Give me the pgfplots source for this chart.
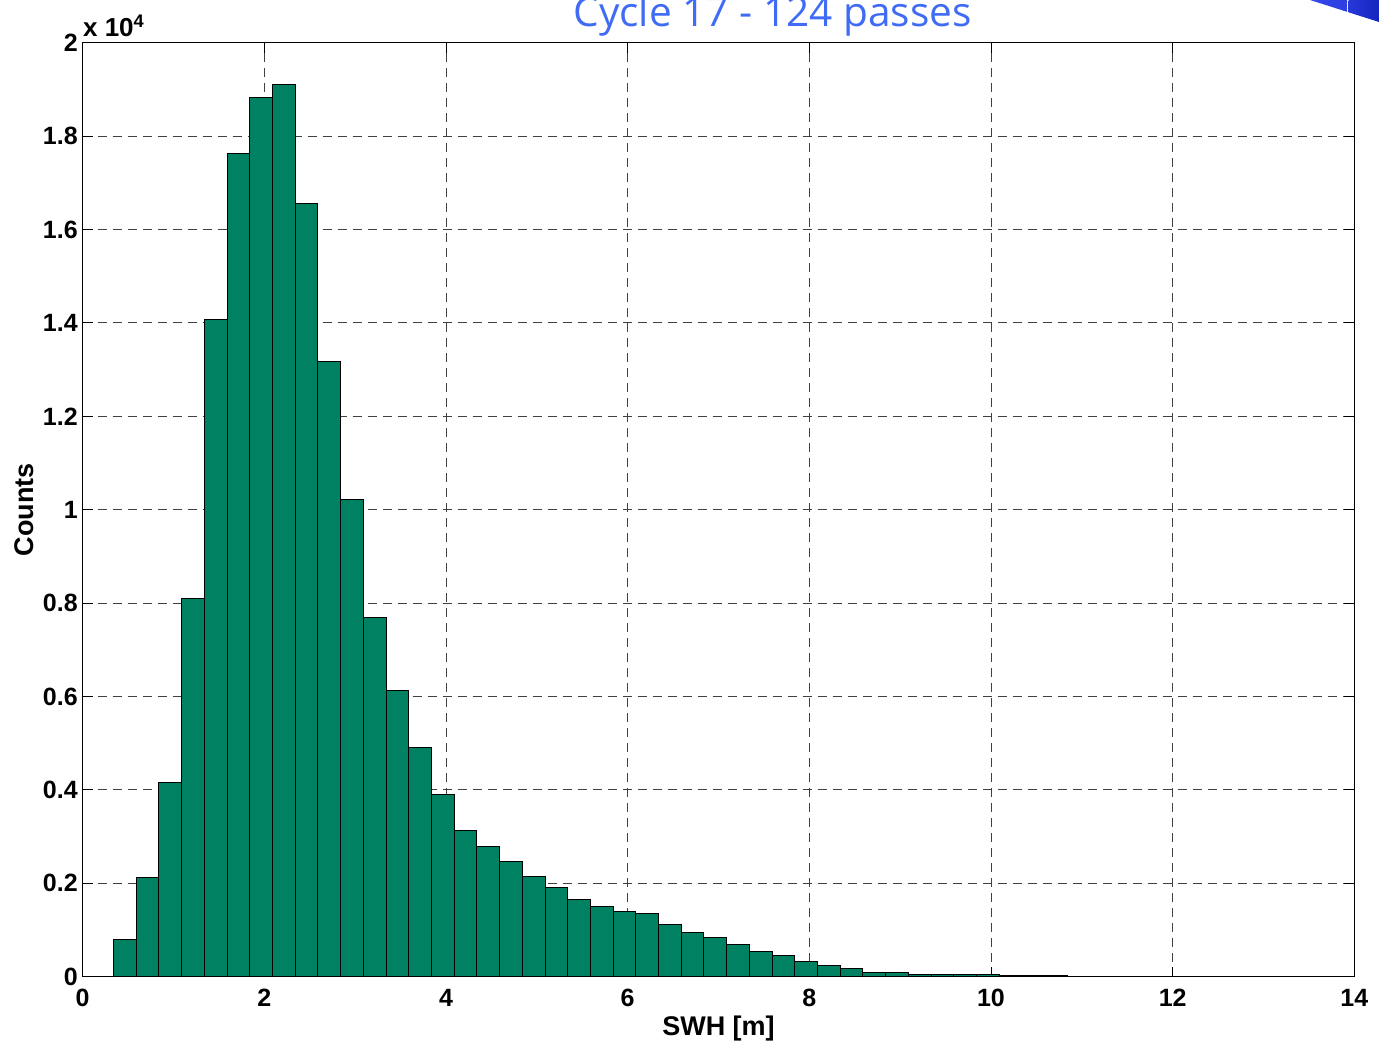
\documentclass[border=0pt]{standalone}
\usepackage{pgfplots}
\pgfplotsset{compat=1.18}
\usepackage{fontspec}
\setmainfont{Liberation Sans}
\newfontfamily\titlefont{Open Sans}

\definecolor{barteal}{RGB}{0,129,98}
\definecolor{titleblue}{RGB}{64,108,245}
\definecolor{logoblueA}{RGB}{52,70,235}
\definecolor{logoblueB}{RGB}{20,36,190}

% SWH histogram: left bin edge, counts (last row closes the final bin)
\pgfplotstableread{
x      n
0.34   801
0.59   2120
0.84   4163
1.09   8094
1.34   14083
1.59   17623
1.84   18837
2.09   19109
2.34   16561
2.59   13163
2.84   10223
3.09   7696
3.34   6124
3.59   4912
3.84   3897
4.09   3135
4.34   2792
4.59   2477
4.84   2150
5.09   1921
5.34   1657
5.59   1493
5.84   1400
6.09   1343
6.34   1122
6.59   951
6.84   844
7.09   694
7.34   550
7.59   458
7.84   330
8.09   245
8.34   180
8.59   100
8.84   80
9.09   58
9.34   50
9.59   43
9.84   40
10.09  25
10.34  22
10.59  18
10.84  15
11.09  12
11.34  10
11.59  8
11.84  4
12.09  2
12.34  1
12.59  0
}\swhhist

\begin{document}
\begin{tikzpicture}
\begin{axis}[
  name=ax,
  at={(0,0)}, anchor=south west,
  scale only axis,
  width=635.8pt, height=467pt,
  xmin=0, xmax=14, ymin=0, ymax=20000,
  xtick={0,2,...,14},
  xticklabels={0,2,4,6,8,10,12,14},
  ytick={0,2000,...,20000},
  yticklabels={0,0.2,0.4,0.6,0.8,1,1.2,1.4,1.6,1.8,2},
  scaled ticks=false,
  tick align=inside,
  xtick pos=both, ytick pos=both,
  major tick length=5pt,
  tick style={black, line width=0.5pt},
  axis line style={black, line width=0.6pt},
  grid=major,
  major grid style={black!75, line width=0.5pt, dash pattern=on 4.5pt off 3pt},
  ticklabel style={font=\bfseries\fontsize{12.5}{12.5}\selectfont},
  xticklabel style={anchor=base, inner sep=0pt, yshift=-15pt},
  yticklabel style={anchor=east, inner sep=0pt, xshift=-2.3pt},
  xlabel={SWH [m]},
  ylabel={Counts},
  label style={font=\bfseries\fontsize{13.5}{13.5}\selectfont},
  xlabel style={at={(rel axis cs:0.5,0)}, anchor=base, inner sep=0pt, yshift=-29.2pt},
  ylabel style={at={(rel axis cs:0,0.5)}, anchor=center, inner sep=0pt, yshift=29.35pt},
  clip=false,
]
\addplot[ybar interval, fill=barteal, draw=black, line width=0.5pt] table[x=x, y=n] {\swhhist};
\node[anchor=base west, inner sep=0pt, font=\bfseries\fontsize{13}{13}\selectfont]
  at (rel axis cs:0,1) [yshift=3.35pt] {x 10\textsuperscript{4}};
\end{axis}

% title, partly cut by the page edge
\node[anchor=base west, inner sep=0pt, text=titleblue, font=\titlefont\fontsize{20.3}{20.3}\selectfont]
  at (245.15pt,474.85pt) {Cycle 17 - 124 passes};

% corner logo fragment
\shade[left color=logoblueA, right color=logoblueA!80!logoblueB]
  (613.65pt,488.35pt) -- (632.15pt,488.35pt) -- (632.15pt,482.45pt) -- cycle;
\shade[left color=logoblueA!60!logoblueB, right color=logoblueB]
  (632.9pt,488.35pt) -- (648.15pt,488.35pt) -- (648.15pt,477.35pt) -- (632.9pt,482.2pt) -- cycle;

\pgfresetboundingbox
\useasboundingbox (-41.35pt,-34.65pt) rectangle (648.15pt,488.35pt);
\end{tikzpicture}
\end{document}
